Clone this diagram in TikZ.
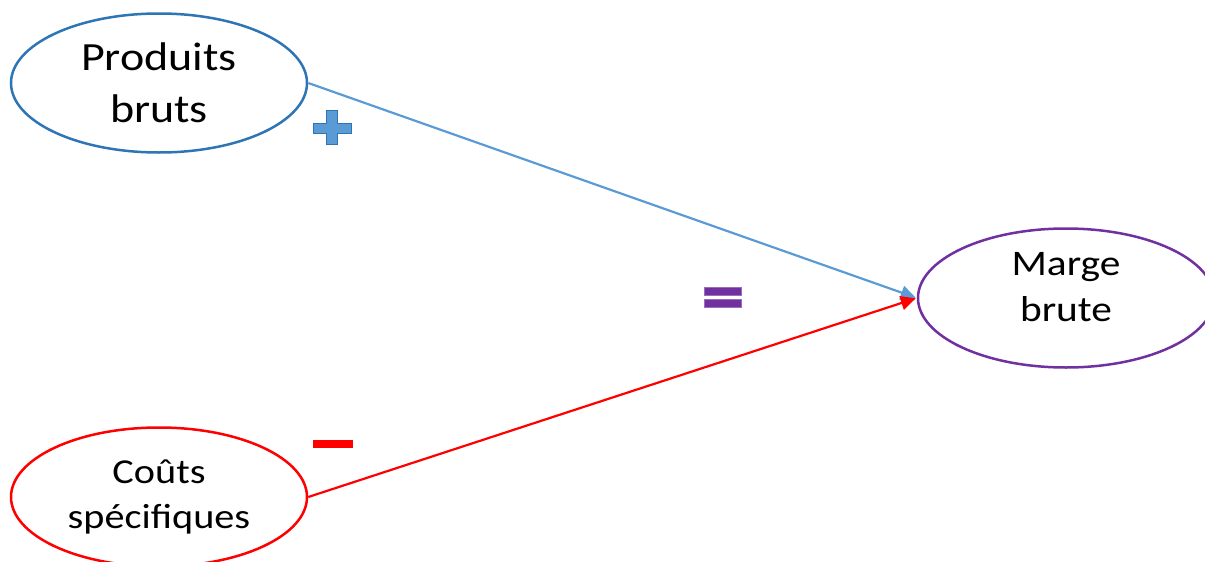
\documentclass[tikz,border=0pt]{standalone}
\usepackage{fontspec}
\setmainfont{Carlito}[FakeStretch=1.15]
\usetikzlibrary{shapes.geometric,arrows.meta}
\definecolor{pblue}{HTML}{2E75B6}
\definecolor{lblue}{HTML}{5B9BD5}
\definecolor{dblue}{HTML}{41719C}
\definecolor{purp}{HTML}{7030A0}
\definecolor{pred}{HTML}{FF0000}
\begin{document}
\begin{tikzpicture}[x=1pt,y=-1pt,
  oval/.style={ellipse, draw, line width=2.5pt, minimum width=296pt, minimum height=139pt, inner sep=0pt, align=center, text=black},
  link/.style={line width=2.2pt, -{Triangle[length=15pt,width=14pt]}, shorten >=1pt},
  signfill/.style={line width=0.8pt}
]
\useasboundingbox (0,0) rectangle (1205,562);
\node[oval, draw=pblue, font=\fontsize{40}{52}\selectfont] (pb) at (159,83) {Produits\\bruts};
\node[oval, draw=pred, font=\fontsize{35}{45}\selectfont] (cs) at (159,497) {Coûts\\spécifiques};
\node[oval, draw=purp, font=\fontsize{36}{46}\selectfont, text depth=22pt] (mb) at (1066,298) {Marge\\brute};
\draw[link, draw=lblue, fill=lblue] (pb.east) -- (mb.west);
\draw[link, draw=pred, fill=pred] (cs.east) -- (mb.west);
% plus sign
\filldraw[signfill, fill=lblue, draw=pblue]
  (326,110) -- (337,110) -- (337,123) -- (351,123) -- (351,133) -- (337,133)
  -- (337,144) -- (326,144) -- (326,133) -- (313,133) -- (313,123) -- (326,123) -- cycle;
% equals sign
\filldraw[signfill, fill=purp, draw=purp!70] (704,287) rectangle (741,295);
\filldraw[signfill, fill=purp, draw=purp!70] (704,299) rectangle (741,307);
% minus sign
\fill[pred] (313,440) rectangle (353,448);
\end{tikzpicture}
\end{document}
